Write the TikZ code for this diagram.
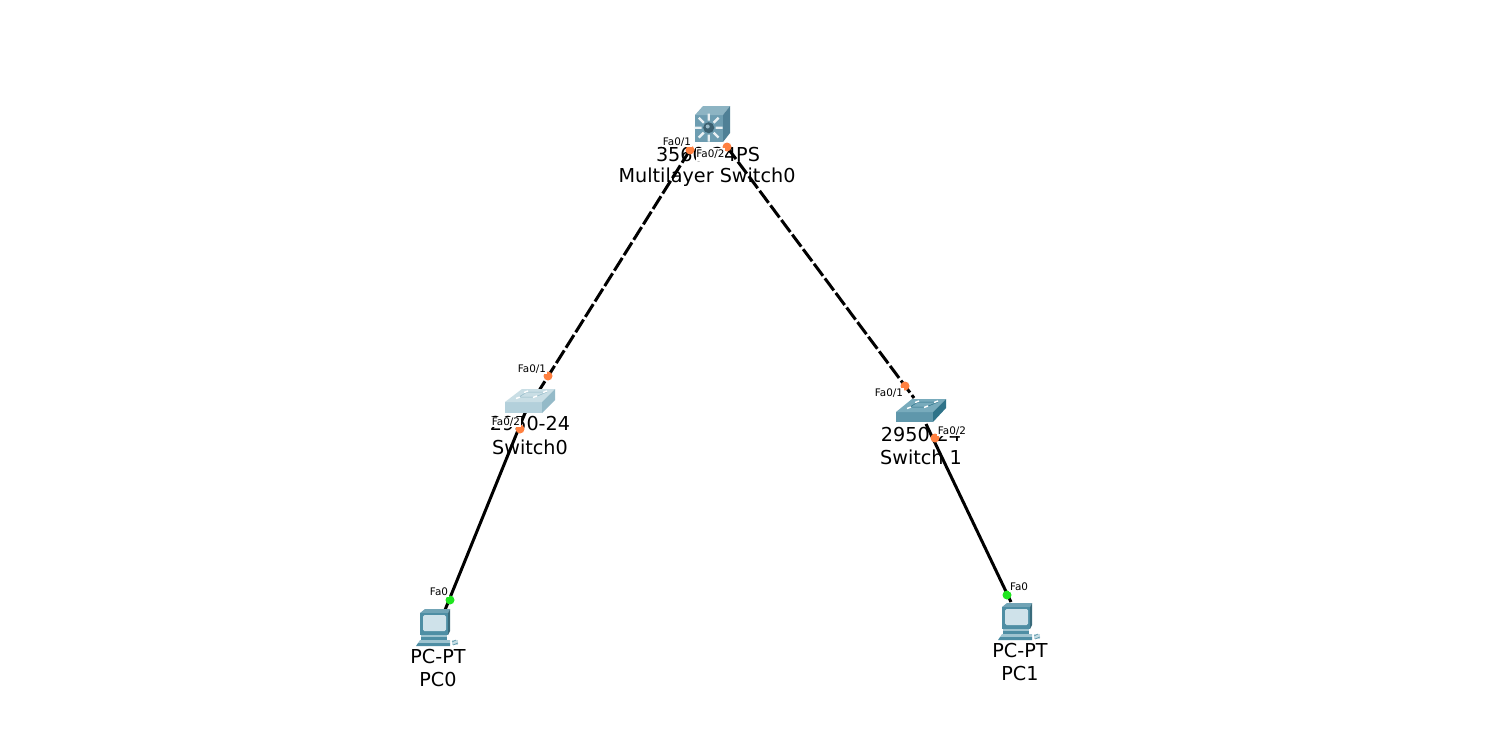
\documentclass[tikz,border=0pt]{standalone}
\usepackage{fontspec}
\setmainfont{DejaVu Sans}
\begin{document}
\begin{tikzpicture}[x=1pt,y=-1pt,
  devlabel/.style={inner sep=0pt,font=\fontsize{19.2}{22}\selectfont,text=black},
  portlabel/.style={fill=white,inner xsep=0.8pt,inner ysep=0.8pt,font=\fontsize{10.4}{11}\selectfont,text=black},
  trunk/.style={line width=3pt,black,dash pattern=on 15pt off 3.2pt},
  access/.style={line width=3pt,black},
  portdot/.style={circle,inner sep=0pt,minimum size=9pt},
  amber/.style={portdot,fill=portorange},
  lit/.style={portdot,fill=portgreen},
  pcicon/.pic={
    \fill[pcdark!80!white] (4,4)--(9,0)--(34,0)--(32,4)--cycle;
    \fill[pcdark!75!black] (32,4)--(34,0)--(34,22)--(32,26)--cycle;
    \fill[pcdark] (4,4) rectangle (32,26);
    \fill[screen,rounded corners=1.5pt] (7,6) rectangle (30,22);
    \fill[pclight] (5,26) rectangle (31,28);
    \fill[pcdark] (5,28) rectangle (31,31);
    \fill[pclight] (4,31)--(34,31)--(34,34)--(2,34)--cycle;
    \fill[pcdark] (2,34)--(34,34)--(34,37)--(0,37)--cycle;
    \fill[pclight!60!white] (36,31) rectangle (42,36);
    \draw[pcdark,line width=0.6pt] (36,33)--(40,31) (37,36)--(42,34);
  }
]
\definecolor{portorange}{HTML}{FF8040}
\definecolor{portgreen}{HTML}{1FE61F}
\definecolor{pcdark}{HTML}{4E8EA4}
\definecolor{pclight}{HTML}{9FC4D0}
\definecolor{screen}{HTML}{CFE2EA}
\definecolor{mlfront}{HTML}{6D9DB1}
\definecolor{mltop}{HTML}{8DB4C3}
\definecolor{mlside}{HTML}{4F8096}
\definecolor{swlf}{HTML}{B3D0DB}
\definecolor{swlt}{HTML}{C9DEE5}
\definecolor{swls}{HTML}{94BAC8}
\definecolor{swdf}{HTML}{5F97AB}
\definecolor{swdt}{HTML}{78ABBC}
\definecolor{swds}{HTML}{2F7389}
\useasboundingbox (0,0) rectangle (1492,736);
\fill[white] (0,0) rectangle (1492,736);

% attachment points of the links
\coordinate (mll) at (690,150);
\coordinate (mlr) at (727,147);
\coordinate (swzc) at (525,413);
\coordinate (swoc) at (914,398);
\coordinate (swob) at (926,424);
\coordinate (pczc) at (445,610);
\coordinate (pcoc) at (1011,602);

% connectors
\draw[trunk] (mll) -- (swzc);
\draw[trunk] (mlr) -- (swoc);
\draw[access] (swzc) -- (pczc);
\draw[access] (swob) -- (pcoc);

% device labels
\node[devlabel] (mlmodel) at (708,155) {3560-24PS};
\node[devlabel] (mlname) at (707,177) {Multilayer Switch0};
\node[devlabel] (swzmodel) at (530,424) {2950-24};
\node[devlabel] (swzname) at (530,447) {Switch0};
\node[devlabel] (swomodel) at (921,435) {2950-24};
\node[devlabel] (swoname) at (921,457) {Switch 1};
\node[devlabel] (pczmodel) at (438,657) {PC-PT};
\node[devlabel] (pczname) at (438,680) {PC0};
\node[devlabel] (pcomodel) at (1020,651) {PC-PT};
\node[devlabel] (pconame) at (1020,674) {PC1};

% port dots
\node[amber] (d1) at (690,150) {};
\node[amber] (d2) at (727,147) {};
\node[amber] (d3) at (548,376) {};
\node[amber] (d4) at (520,429) {};
\node[amber] (d5) at (905,386) {};
\node[amber] (d6) at (935,438) {};
\node[lit] (d7) at (450,600) {};
\node[lit] (d8) at (1007,595) {};

% multilayer switch
\fill[mlfront] (695,115) rectangle (723,142);
\fill[mltop] (695,115)--(703,106)--(730,106)--(723,115)--cycle;
\fill[mlside] (723,115)--(730,106)--(730,133)--(723,142)--cycle;
\foreach \a in {0,45,...,315}
  \fill[white!85!mlfront] (708.7,127.7)++(\a:14) -- ++(\a+90:1.2) -- ++(\a+180:7) -- ++(\a+90:-2.4) -- ++(\a:7) -- cycle;
\fill[mlside!75!black] (708.7,127.7) circle (5.5pt);
\fill[mlfront!70!white] (707.7,126.5) circle (2pt);

% Switch0
\fill[swlf] (505,402) rectangle (542,413);
\fill[swlt] (505,402)--(522,389)--(555,389)--(542,402)--cycle;
\fill[swls] (542,402)--(555,389)--(555,400)--(542,413)--cycle;
\draw[swls,line width=.5pt] (519,397)--(535,397) (527,392)--(547,392) (527,392)--(519,397) (547,392)--(535,397);
\draw[white,line width=1.4pt] (516,398.5)--(520,397) (524,392.5)--(528,391) (533,397.5)--(537,396) (543,392.5)--(547,391);

% Switch1
\fill[swdf] (896,412) rectangle (933,422);
\fill[swdt] (896,412)--(912,399)--(946,399)--(933,412)--cycle;
\fill[swds] (933,412)--(946,399)--(946,408)--(933,422)--cycle;
\draw[swds,line width=.5pt] (910,407)--(926,407) (918,402)--(938,402) (918,402)--(910,407) (938,402)--(926,407);
\draw[white,line width=1.4pt] (907,408.5)--(911,407) (915,402.5)--(919,401) (924,407.5)--(928,406) (934,402.5)--(938,401);

% computers
\pic at (416,609) {pcicon};
\pic at (998,603) {pcicon};

% port labels
\node[portlabel] (p1) at (677,142) {Fa0/1};
\node[portlabel,minimum height=13pt] (p2) at (710.5,154.5) {Fa0/2};
\node[portlabel] (p3) at (532,369) {Fa0/1};
\node[portlabel] (p4) at (506,422) {Fa0/2};
\node[portlabel] (p5) at (889,393) {Fa0/1};
\node[portlabel] (p6) at (952,431) {Fa0/2};
\node[portlabel] (p7) at (439,592) {Fa0};
\node[portlabel] (p8) at (1019,587) {Fa0};
\end{tikzpicture}
\end{document}
